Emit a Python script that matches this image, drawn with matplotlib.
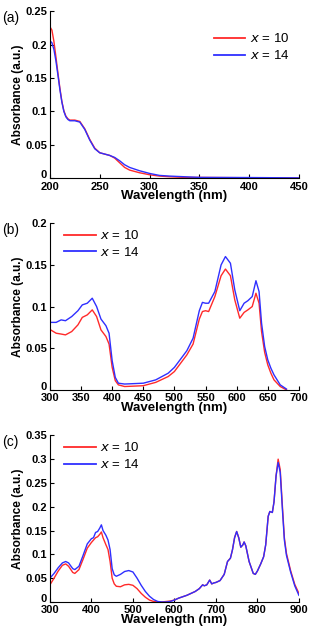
import numpy as np
import matplotlib.pyplot as plt
import matplotlib.transforms as mtransforms

plt.rcParams['font.family'] = ['Liberation Sans', 'DejaVu Sans']

RED = '#ff2a2a'
BLUE = '#2f2fff'

# (a) UV region
wl_a = [200, 202, 204, 206, 208, 210, 212, 214, 216, 218, 220, 225, 230, 235, 240,
        245, 250, 255, 260, 265, 270, 275, 280, 290, 300, 310, 320, 335, 350, 400, 450]
abs_a_10 = [0.227, 0.222, 0.205, 0.182, 0.158, 0.135, 0.115, 0.101, 0.093, 0.089, 0.087, 0.087, 0.085,
            0.074, 0.058, 0.045, 0.038, 0.036, 0.034, 0.030, 0.023, 0.016, 0.012, 0.008, 0.005,
            0.003, 0.002, 0.001, 0.001, 0.0005, 0.0]
abs_a_14 = [0.206, 0.203, 0.193, 0.176, 0.155, 0.133, 0.114, 0.100, 0.092, 0.088, 0.086, 0.086, 0.084,
            0.073, 0.057, 0.044, 0.038, 0.036, 0.034, 0.031, 0.026, 0.020, 0.016, 0.011, 0.007,
            0.004, 0.003, 0.002, 0.001, 0.0008, 0.0003]

# (b) visible region
wl_b = [300, 310, 318, 325, 335, 345, 352, 360, 368, 375, 382, 390, 395, 400, 405, 410, 420,
        450, 470, 490, 500, 510, 520, 530, 540, 545, 550, 555, 565, 575, 582, 590, 597, 605,
        612, 618, 625, 631, 636, 640, 645, 650, 655, 660, 670, 680]
abs_b_10 = [0.0725, 0.068, 0.067, 0.066, 0.070, 0.078, 0.087, 0.090, 0.096, 0.088, 0.072, 0.064,
            0.055, 0.027, 0.011, 0.006, 0.004, 0.005, 0.009, 0.016, 0.022, 0.032, 0.042, 0.055,
            0.085, 0.094, 0.095, 0.094, 0.112, 0.137, 0.145, 0.137, 0.108, 0.086, 0.093, 0.096,
            0.100, 0.116, 0.104, 0.070, 0.045, 0.030, 0.020, 0.012, 0.004, 0.0]
abs_b_14 = [0.081, 0.081, 0.084, 0.083, 0.088, 0.095, 0.102, 0.104, 0.110, 0.100, 0.085, 0.077,
            0.068, 0.035, 0.015, 0.008, 0.007, 0.008, 0.012, 0.020, 0.027, 0.037, 0.047, 0.062,
            0.095, 0.105, 0.104, 0.104, 0.118, 0.150, 0.160, 0.152, 0.120, 0.095, 0.104, 0.107,
            0.112, 0.131, 0.118, 0.080, 0.052, 0.036, 0.026, 0.018, 0.006, 0.001]

# (c) visible-NIR region
wl_c = [300, 310, 320, 330, 338, 345, 355, 360, 370, 380, 390, 400, 405, 410, 415, 420, 424,
        428, 435, 440, 445, 450, 455, 460, 470, 480, 490, 500, 510, 520, 530, 540, 550, 560,
        570, 580, 590, 600, 610, 620, 630, 640, 650, 660, 668, 672, 678, 685, 690, 695, 700,
        710, 720, 728, 735, 740, 745, 750, 755, 760, 765, 768, 772, 780, 790, 795, 800, 808,
        815, 820, 826, 830, 836, 840, 845, 850, 855, 860, 865, 870, 880, 890, 900]
tail_c = [0.008, 0.011, 0.014, 0.018, 0.022, 0.028, 0.036, 0.034, 0.036, 0.046, 0.038, 0.040,
          0.041, 0.045, 0.058, 0.085, 0.092, 0.110, 0.135, 0.148, 0.135, 0.115, 0.120, 0.126,
          0.118, 0.085, 0.060, 0.058, 0.065, 0.080, 0.095, 0.120, 0.180, 0.190, 0.188, 0.210,
          0.265]
abs_c_10 = [0.036, 0.050, 0.065, 0.077, 0.080, 0.075, 0.062, 0.060, 0.068, 0.090, 0.113, 0.125,
            0.130, 0.135, 0.137, 0.142, 0.147, 0.135, 0.120, 0.110, 0.085, 0.050, 0.038, 0.033,
            0.032, 0.036, 0.037, 0.035, 0.028, 0.018, 0.010, 0.004, 0.001, 0.0, 0.0, 0.001,
            0.002, 0.004] + tail_c + [0.300, 0.278, 0.205, 0.135, 0.102, 0.066, 0.037, 0.018]
abs_c_14 = [0.050, 0.060, 0.072, 0.082, 0.085, 0.082, 0.070, 0.068, 0.075, 0.098, 0.122, 0.133,
            0.135, 0.146, 0.148, 0.155, 0.162, 0.150, 0.140, 0.130, 0.110, 0.070, 0.057, 0.054,
            0.058, 0.064, 0.066, 0.063, 0.050, 0.035, 0.022, 0.012, 0.005, 0.001, 0.0, 0.0,
            0.001, 0.004] + tail_c + [0.293, 0.272, 0.198, 0.130, 0.098, 0.063, 0.034, 0.014]

fig = plt.figure(figsize=(3.12, 6.36), dpi=100)

panels = [
    ('(a)', wl_a, abs_a_10, abs_a_14, (200, 450), [200, 250, 300, 350, 400, 450],
     (0, 0.25), [0, 0.05, 0.1, 0.15, 0.2, 0.25], 0.720, 'upper right'),
    ('(b)', wl_b, abs_b_10, abs_b_14, (300, 700), [300, 350, 400, 450, 500, 550, 600, 650, 700],
     (0, 0.2), [0, 0.05, 0.1, 0.15, 0.2], 0.387, 'upper left'),
    ('(c)', wl_c, abs_c_10, abs_c_14, (300, 900), [300, 400, 500, 600, 700, 800, 900],
     (0, 0.35), [0, 0.05, 0.1, 0.15, 0.2, 0.25, 0.3, 0.35], 0.0535, 'upper left'),
]

lift = mtransforms.ScaledTranslation(0, 3 / 72, fig.dpi_scale_trans)

for tag, wl, y10, y14, xlim, xt, ylim, yt, bottom, loc in panels:
    ax = fig.add_axes([0.160, bottom, 0.798, 0.262])
    ax.plot(wl, y10, color=RED, lw=1.0, label='$x$ = 10')
    ax.plot(wl, y14, color=BLUE, lw=1.0, label='$x$ = 14')
    ax.set_xlim(*xlim)
    ax.set_ylim(*ylim)
    ax.set_xticks(xt)
    ax.set_yticks(yt)
    ax.set_yticklabels(['0' if v == 0 else ('%g' % v) for v in yt])
    ax.spines['top'].set_visible(False)
    ax.spines['right'].set_visible(False)
    ax.tick_params(direction='in', length=3, width=0.8, labelsize=8)
    ax.tick_params(axis='x', pad=2.5)
    ax.tick_params(axis='y', pad=2)
    for lab in ax.get_xticklabels() + ax.get_yticklabels():
        lab.set_fontweight('bold')
    # nudge the "0" up a little so it clears the first wavelength label
    zero = ax.get_yticklabels()[0]
    zero.set_transform(zero.get_transform() + lift)
    ax.set_xlabel('Wavelength (nm)', fontsize=9.5, fontweight='bold', labelpad=-1)
    ax.set_ylabel('Absorbance (a.u.)', fontsize=8.6, fontweight='bold', labelpad=1)
    if loc == 'upper right':
        leg = ax.legend(loc='upper right', bbox_to_anchor=(1.0, 0.93), frameon=False,
                        fontsize=9.5, handlelength=2.4, handletextpad=0.35, labelspacing=0.3,
                        borderpad=0.2)
    else:
        leg = ax.legend(loc='upper left', bbox_to_anchor=(0.02, 1.02), frameon=False,
                        fontsize=9.5, handlelength=2.4, handletextpad=0.35, labelspacing=0.3,
                        borderpad=0.2)
    for line in leg.get_lines():
        line.set_linewidth(1.3)
    top = bottom + 0.262
    fig.text(0.008, top - 0.010, tag, fontsize=10, va='center', ha='left')

fig.savefig('out.png', dpi=100)
